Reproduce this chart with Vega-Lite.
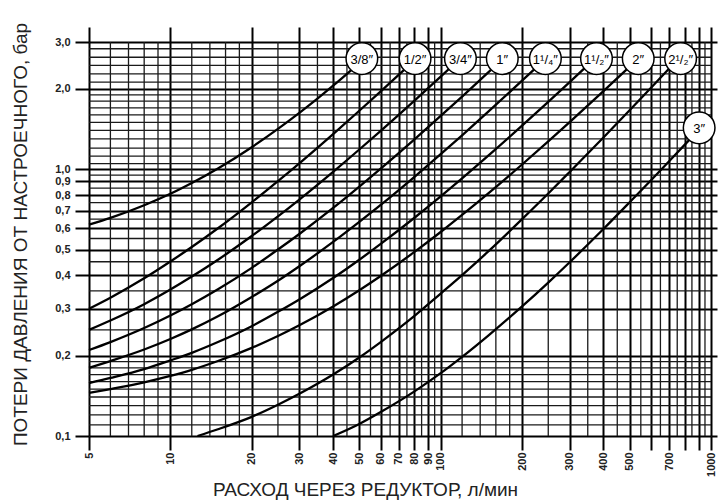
{
  "$schema": "https://vega.github.io/schema/vega-lite/v6.json",
  "width": 622,
  "height": 394,
  "autosize": {"type": "none"},
  "padding": {"left": 89, "top": 42, "right": 7, "bottom": 65},
  "background": "white",
  "config": {"view": {"stroke": null}, "font": "Liberation Sans"},
  "datasets": {
    "vgrid": [{"q":6},{"q":7},{"q":8},{"q":9},{"q":12},{"q":14},{"q":16},{"q":18},{"q":25},{"q":35},{"q":45},{"q":55},{"q":65},{"q":75},{"q":85},{"q":95},{"q":120},{"q":140},{"q":160},{"q":180},{"q":250},{"q":350},{"q":450},{"q":550},{"q":650},{"q":750},{"q":850},{"q":950}],
    "hgrid": [{"dp":0.11},{"dp":0.12},{"dp":0.13},{"dp":0.14},{"dp":0.15},{"dp":0.16},{"dp":0.17},{"dp":0.18},{"dp":0.19},{"dp":0.25},{"dp":0.35},{"dp":0.45},{"dp":0.55},{"dp":0.65},{"dp":0.75},{"dp":0.85},{"dp":0.95},{"dp":1.05},{"dp":1.12},{"dp":1.2},{"dp":1.3},{"dp":1.4},{"dp":1.5},{"dp":1.6},{"dp":1.7},{"dp":1.8},{"dp":1.9},{"dp":2.12},{"dp":2.28},{"dp":2.45},{"dp":2.63},{"dp":2.83}],
    "curves": [
      {"pipe":"3/8","q":5,"dp":0.62},{"pipe":"3/8","q":6,"dp":0.657},{"pipe":"3/8","q":8,"dp":0.733},{"pipe":"3/8","q":10,"dp":0.809},{"pipe":"3/8","q":12,"dp":0.888},{"pipe":"3/8","q":15,"dp":1.007},{"pipe":"3/8","q":20,"dp":1.21},{"pipe":"3/8","q":25,"dp":1.417},{"pipe":"3/8","q":30,"dp":1.627},{"pipe":"3/8","q":35,"dp":1.84},{"pipe":"3/8","q":40,"dp":2.057},{"pipe":"3/8","q":47.5,"dp":2.39},
      {"pipe":"1/2","q":5,"dp":0.3},{"pipe":"1/2","q":6,"dp":0.33},{"pipe":"1/2","q":8,"dp":0.39},{"pipe":"1/2","q":10,"dp":0.451},{"pipe":"1/2","q":12,"dp":0.511},{"pipe":"1/2","q":15,"dp":0.601},{"pipe":"1/2","q":20,"dp":0.752},{"pipe":"1/2","q":25,"dp":0.903},{"pipe":"1/2","q":30,"dp":1.053},{"pipe":"1/2","q":40,"dp":1.355},{"pipe":"1/2","q":50,"dp":1.657},{"pipe":"1/2","q":60,"dp":1.958},{"pipe":"1/2","q":76.3,"dp":2.45},
      {"pipe":"3/4","q":5,"dp":0.25},{"pipe":"3/4","q":6,"dp":0.271},{"pipe":"3/4","q":8,"dp":0.312},{"pipe":"3/4","q":10,"dp":0.354},{"pipe":"3/4","q":12,"dp":0.396},{"pipe":"3/4","q":15,"dp":0.458},{"pipe":"3/4","q":20,"dp":0.562},{"pipe":"3/4","q":25,"dp":0.666},{"pipe":"3/4","q":30,"dp":0.77},{"pipe":"3/4","q":40,"dp":0.978},{"pipe":"3/4","q":50,"dp":1.186},{"pipe":"3/4","q":60,"dp":1.394},{"pipe":"3/4","q":80,"dp":1.81},{"pipe":"3/4","q":100,"dp":2.226},{"pipe":"3/4","q":110.8,"dp":2.45},
      {"pipe":"1","q":5,"dp":0.21},{"pipe":"1","q":6,"dp":0.225},{"pipe":"1","q":8,"dp":0.254},{"pipe":"1","q":10,"dp":0.283},{"pipe":"1","q":12,"dp":0.312},{"pipe":"1","q":15,"dp":0.355},{"pipe":"1","q":20,"dp":0.427},{"pipe":"1","q":25,"dp":0.5},{"pipe":"1","q":30,"dp":0.572},{"pipe":"1","q":40,"dp":0.716},{"pipe":"1","q":50,"dp":0.861},{"pipe":"1","q":60,"dp":1.006},{"pipe":"1","q":80,"dp":1.295},{"pipe":"1","q":100,"dp":1.584},{"pipe":"1","q":120,"dp":1.873},{"pipe":"1","q":140,"dp":2.162},{"pipe":"1","q":159.9,"dp":2.45},
      {"pipe":"1 1/4","q":5,"dp":0.18},{"pipe":"1 1/4","q":6,"dp":0.191},{"pipe":"1 1/4","q":8,"dp":0.211},{"pipe":"1 1/4","q":10,"dp":0.231},{"pipe":"1 1/4","q":12,"dp":0.251},{"pipe":"1 1/4","q":15,"dp":0.281},{"pipe":"1 1/4","q":20,"dp":0.332},{"pipe":"1 1/4","q":25,"dp":0.382},{"pipe":"1 1/4","q":30,"dp":0.433},{"pipe":"1 1/4","q":40,"dp":0.534},{"pipe":"1 1/4","q":50,"dp":0.635},{"pipe":"1 1/4","q":60,"dp":0.735},{"pipe":"1 1/4","q":80,"dp":0.937},{"pipe":"1 1/4","q":100,"dp":1.139},{"pipe":"1 1/4","q":120,"dp":1.341},{"pipe":"1 1/4","q":150,"dp":1.644},{"pipe":"1 1/4","q":200,"dp":2.148},{"pipe":"1 1/4","q":229.9,"dp":2.45},
      {"pipe":"1 1/2","q":5,"dp":0.158},{"pipe":"1 1/2","q":6,"dp":0.165},{"pipe":"1 1/2","q":8,"dp":0.178},{"pipe":"1 1/2","q":10,"dp":0.192},{"pipe":"1 1/2","q":12,"dp":0.205},{"pipe":"1 1/2","q":15,"dp":0.225},{"pipe":"1 1/2","q":20,"dp":0.258},{"pipe":"1 1/2","q":25,"dp":0.292},{"pipe":"1 1/2","q":30,"dp":0.325},{"pipe":"1 1/2","q":40,"dp":0.391},{"pipe":"1 1/2","q":50,"dp":0.458},{"pipe":"1 1/2","q":60,"dp":0.525},{"pipe":"1 1/2","q":80,"dp":0.658},{"pipe":"1 1/2","q":100,"dp":0.791},{"pipe":"1 1/2","q":120,"dp":0.924},{"pipe":"1 1/2","q":150,"dp":1.124},{"pipe":"1 1/2","q":200,"dp":1.457},{"pipe":"1 1/2","q":250,"dp":1.79},{"pipe":"1 1/2","q":300,"dp":2.123},{"pipe":"1 1/2","q":349,"dp":2.45},
      {"pipe":"2","q":5,"dp":0.145},{"pipe":"2","q":6,"dp":0.15},{"pipe":"2","q":8,"dp":0.159},{"pipe":"2","q":10,"dp":0.168},{"pipe":"2","q":12,"dp":0.177},{"pipe":"2","q":15,"dp":0.191},{"pipe":"2","q":20,"dp":0.214},{"pipe":"2","q":25,"dp":0.237},{"pipe":"2","q":30,"dp":0.26},{"pipe":"2","q":40,"dp":0.306},{"pipe":"2","q":50,"dp":0.352},{"pipe":"2","q":60,"dp":0.398},{"pipe":"2","q":80,"dp":0.49},{"pipe":"2","q":100,"dp":0.582},{"pipe":"2","q":120,"dp":0.674},{"pipe":"2","q":150,"dp":0.812},{"pipe":"2","q":200,"dp":1.042},{"pipe":"2","q":250,"dp":1.272},{"pipe":"2","q":300,"dp":1.502},{"pipe":"2","q":400,"dp":1.962},{"pipe":"2","q":506,"dp":2.45},
      {"pipe":"2 1/2","q":12.6,"dp":0.1},{"pipe":"2 1/2","q":15,"dp":0.106},{"pipe":"2 1/2","q":20,"dp":0.118},{"pipe":"2 1/2","q":25,"dp":0.131},{"pipe":"2 1/2","q":30,"dp":0.144},{"pipe":"2 1/2","q":40,"dp":0.17},{"pipe":"2 1/2","q":50,"dp":0.197},{"pipe":"2 1/2","q":60,"dp":0.225},{"pipe":"2 1/2","q":80,"dp":0.282},{"pipe":"2 1/2","q":100,"dp":0.342},{"pipe":"2 1/2","q":120,"dp":0.401},{"pipe":"2 1/2","q":150,"dp":0.492},{"pipe":"2 1/2","q":200,"dp":0.65},{"pipe":"2 1/2","q":250,"dp":0.811},{"pipe":"2 1/2","q":300,"dp":0.977},{"pipe":"2 1/2","q":400,"dp":1.316},{"pipe":"2 1/2","q":500,"dp":1.664},{"pipe":"2 1/2","q":600,"dp":2.02},{"pipe":"2 1/2","q":718,"dp":2.45},
      {"pipe":"3","q":40,"dp":0.1},{"pipe":"3","q":50,"dp":0.111},{"pipe":"3","q":60,"dp":0.123},{"pipe":"3","q":80,"dp":0.147},{"pipe":"3","q":100,"dp":0.172},{"pipe":"3","q":120,"dp":0.198},{"pipe":"3","q":150,"dp":0.238},{"pipe":"3","q":200,"dp":0.306},{"pipe":"3","q":250,"dp":0.376},{"pipe":"3","q":300,"dp":0.448},{"pipe":"3","q":400,"dp":0.597},{"pipe":"3","q":500,"dp":0.752},{"pipe":"3","q":600,"dp":0.91},{"pipe":"3","q":700,"dp":1.072},{"pipe":"3","q":838,"dp":1.3}
    ],
    "labels": [
      {"label":"3/8″","q":51.1,"dp":2.6},
      {"label":"1/2″","q":80.4,"dp":2.6},
      {"label":"3/4″","q":118.3,"dp":2.6},
      {"label":"1″","q":169,"dp":2.6},
      {"label":"1¹/₄″","q":244,"dp":2.6},
      {"label":"1¹/₂″","q":377,"dp":2.6},
      {"label":"2″","q":538,"dp":2.6},
      {"label":"2¹/₂″","q":772,"dp":2.6},
      {"label":"3″","q":904,"dp":1.43}
    ]
  },
  "layer": [
    {
      "data": {"name": "vgrid"},
      "mark": {"type": "rule", "color": "#1a1a1a", "strokeWidth": 1.3},
      "encoding": {
        "x": {"field": "q", "type": "quantitative",
          "scale": {"type": "log", "domain": [5, 1000], "nice": false},
          "axis": {"orient": "top", "values": [5,10,20,30,40,50,60,70,80,90,100,200,300,400,500,600,700,800,900,1000],
            "labels": false, "ticks": true, "tickSize": 15, "tickWidth": 2, "tickColor": "black",
            "domain": false, "grid": false, "title": null}}
      }
    },
    {
      "data": {"name": "hgrid"},
      "mark": {"type": "rule", "color": "#1a1a1a", "strokeWidth": 1.3},
      "encoding": {
        "y": {"field": "dp", "type": "quantitative",
          "scale": {"type": "log", "domain": [0.1, 3], "nice": false},
          "axis": {"orient": "right", "values": [0.1,0.2,0.3,0.4,0.5,0.6,0.7,0.8,0.9,1,2,3],
            "labels": false, "ticks": true, "tickSize": 6, "tickWidth": 2, "tickColor": "black",
            "domain": false, "grid": false, "title": null}}
      }
    },
    {
      "data": {"name": "curves"},
      "mark": {"type": "line", "color": "black", "strokeWidth": 2.3, "interpolate": "monotone"},
      "encoding": {
        "detail": {"field": "pipe"},
        "x": {"field": "q", "type": "quantitative",
          "scale": {"type": "log", "domain": [5, 1000], "nice": false},
          "axis": {"orient": "bottom", "values": [5,10,20,30,40,50,60,70,80,90,100,200,300,400,500,600,700,800,900,1000],
            "labelExpr": "indexof([600,800,900], datum.value) >= 0 ? '' : format(datum.value, 'd')",
            "labelAngle": -90, "labelAlign": "right", "labelBaseline": "middle", "labelPadding": 2,
            "labelFontSize": 11, "labelFontWeight": "bold", "labelColor": "#222", "labelFlush": false, "labelOverlap": false, "labelBound": false,
            "ticks": true, "tickSize": 14, "tickWidth": 2, "tickColor": "black",
            "grid": true, "gridColor": "black", "gridWidth": 2, "gridOpacity": 1,
            "domain": false,
            "title": "РАСХОД ЧЕРЕЗ РЕДУКТОР, л/мин",
            "titleFontSize": 19, "titleFontWeight": "normal", "titleColor": "#222",
            "titleX": 276, "titleY": 53, "titleAlign": "center", "titleBaseline": "middle", "titleAnchor": null}},
        "y": {"field": "dp", "type": "quantitative",
          "scale": {"type": "log", "domain": [0.1, 3], "nice": false},
          "axis": {"orient": "left", "values": [0.1,0.2,0.3,0.4,0.5,0.6,0.7,0.8,0.9,1,2,3],
            "labelExpr": "replace(format(datum.value, '.1f'), '.', ',')",
            "labelPadding": 5, "labelFontSize": 11, "labelFontWeight": "bold", "labelColor": "#222", "labelOverlap": false, "labelBound": false, "labelFlush": false,
            "ticks": true, "tickSize": 14, "tickWidth": 2, "tickColor": "black",
            "grid": true, "gridColor": "black", "gridWidth": 2, "gridOpacity": 1,
            "domain": false,
            "title": "ПОТЕРИ ДАВЛЕНИЯ ОТ НАСТРОЕЧНОГО, бар",
            "titleFontSize": 19, "titleFontWeight": "normal", "titleColor": "#222",
            "titleX": -69, "titleY": 192, "titleAngle": -90, "titleAlign": "center", "titleBaseline": "middle"}}
      }
    },
    {
      "data": {"name": "labels"},
      "mark": {"type": "point", "shape": "circle", "filled": true, "fill": "white", "stroke": "black", "strokeWidth": 1.5, "size": 1000, "opacity": 1},
      "encoding": {
        "x": {"field": "q", "type": "quantitative", "scale": {"type": "log", "domain": [5, 1000], "nice": false}, "axis": null},
        "y": {"field": "dp", "type": "quantitative", "scale": {"type": "log", "domain": [0.1, 3], "nice": false}, "axis": null}
      }
    },
    {
      "data": {"name": "labels"},
      "mark": {"type": "text", "fontSize": 13, "color": "black", "align": "center", "baseline": "middle", "dy": 1},
      "encoding": {
        "text": {"field": "label"},
        "x": {"field": "q", "type": "quantitative", "scale": {"type": "log", "domain": [5, 1000], "nice": false}, "axis": null},
        "y": {"field": "dp", "type": "quantitative", "scale": {"type": "log", "domain": [0.1, 3], "nice": false}, "axis": null}
      }
    }
  ]
}
